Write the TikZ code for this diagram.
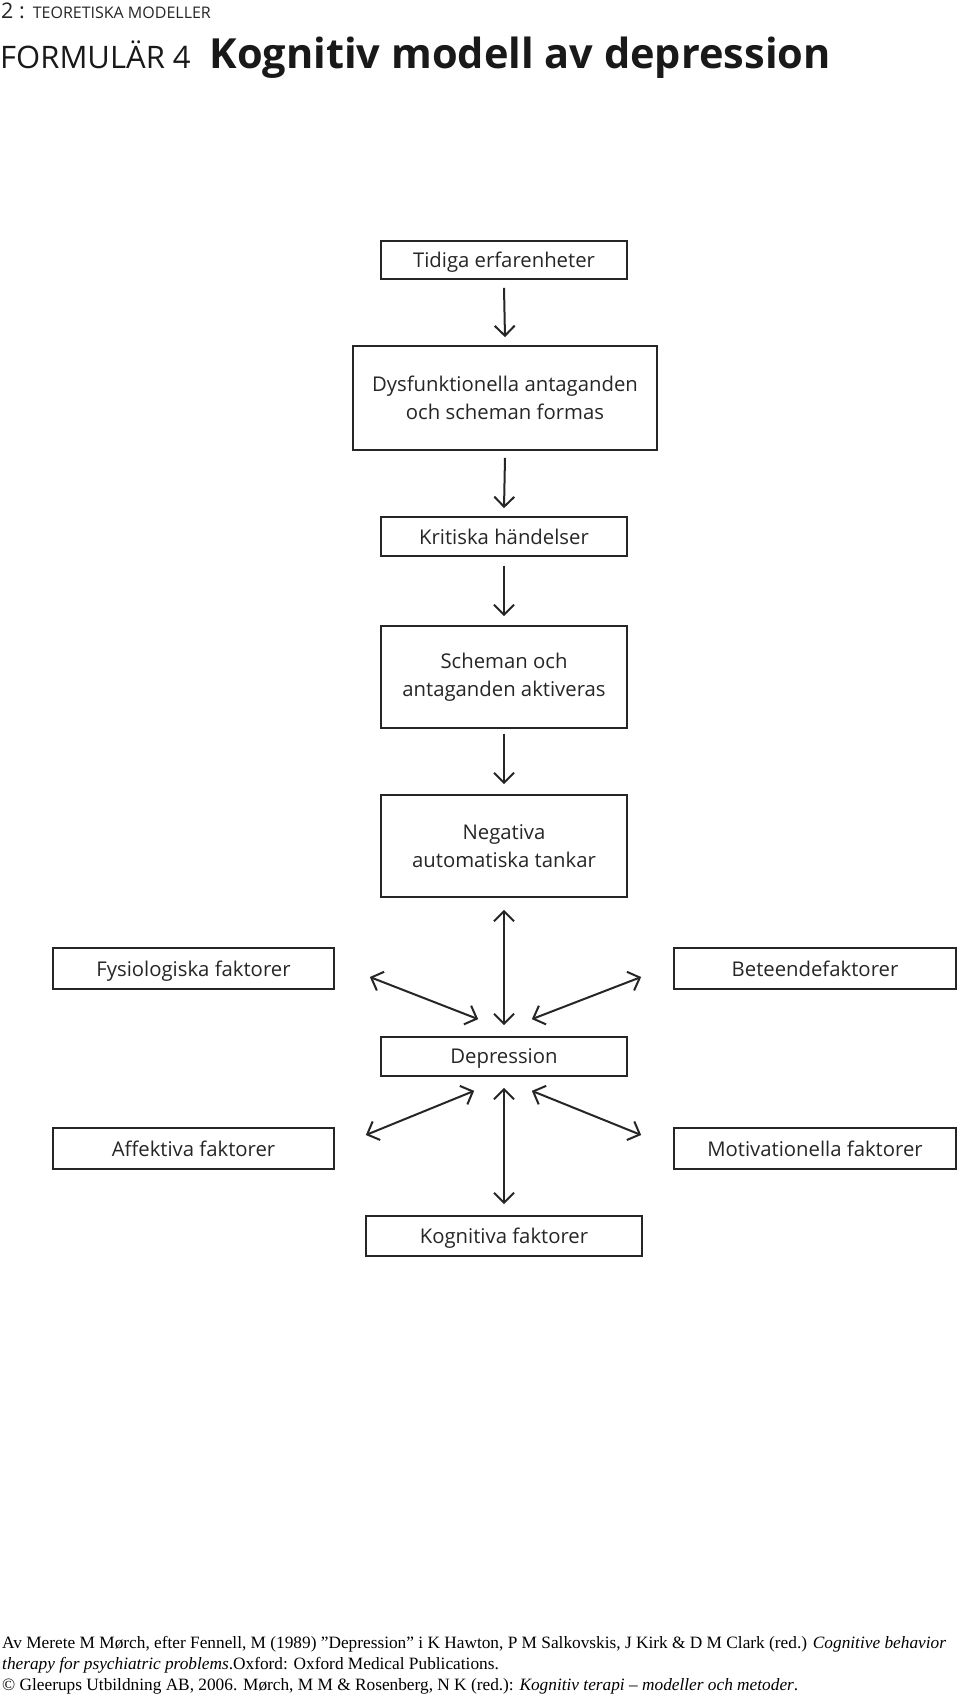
\documentclass[tikz,border=0pt]{standalone}
\usepackage{fontspec}
\setmainfont{Open Sans}
\newfontfamily\serifft{Liberation Serif}
\usetikzlibrary{arrows.meta,calc}
\begin{document}
\begin{tikzpicture}[x=1pt,y=-1pt,
  box/.style={draw=black!85,line width=1.7pt,inner sep=0pt,align=center,
    font=\fontsize{20.3}{28}\selectfont,text=black!85},
  sbox/.style={box,text depth=0pt},
  tip/.tip={Straight Barb[length=10pt,width=20pt]},
  arr/.style={line width=2pt,draw=black!85,-tip},
  darr/.style={line width=2pt,draw=black!85,tip-tip},
  foot/.style={anchor=base west,inner sep=0pt,font=\serifft\fontsize{17.3}{20}\selectfont,text=black}]
\useasboundingbox (0,0) rectangle (960,1697);
\fill[white] (0,0) rectangle (960,1697);
% header
\node[anchor=west,inner sep=0pt,text=black!85] (hdr) at (1,11)
  {\fontsize{21.5}{22}\selectfont 2 :\hspace{8pt}\fontsize{16}{18}\selectfont TEORETISKA MODELLER};
\node[anchor=west,inner sep=0pt,text=black!90] (title) at (0,58)
  {\fontsize{31}{36}\selectfont FORMULÄR 4\hspace{19pt}\bfseries\fontsize{41.5}{44}\selectfont Kognitiv modell av depression};
% boxes
\node[sbox,minimum width=246pt,minimum height=38pt] (tid) at (504,260) {Tidiga erfarenheter};
\node[box,minimum width=304pt,minimum height=104pt] (dys) at (505,398) {Dysfunktionella antaganden\\och scheman formas};
\node[sbox,minimum width=246pt,minimum height=39pt] (kri) at (504,536.5) {Kritiska händelser};
\node[box,minimum width=246pt,minimum height=102pt] (sch) at (504,677) {Scheman och\\antaganden aktiveras};
\node[box,minimum width=246pt,minimum height=102pt] (neg) at (504,846) {Negativa\\automatiska tankar};
\node[sbox,minimum width=281pt,minimum height=41pt] (fys) at (193.5,968.5) {Fysiologiska faktorer};
\node[sbox,minimum width=282pt,minimum height=41pt] (bet) at (815,968.5) {Beteendefaktorer};
\node[sbox,minimum width=246pt,minimum height=39pt] (dep) at (504,1056.5) {Depression};
\node[sbox,minimum width=281pt,minimum height=41pt] (aff) at (193.5,1148.5) {Affektiva faktorer};
\node[sbox,minimum width=282pt,minimum height=41pt] (mot) at (815,1148.5) {Motivationella faktorer};
\node[sbox,minimum width=276pt,minimum height=40pt] (kog) at (504,1236) {Kognitiva faktorer};
% vertical arrows
\draw[arr] ($(tid.south)+(0,8)$) -- ($(dys.north)+(0,-8)$);
\draw[arr] ($(dys.south)+(0,7)$) -- ($(kri.north)+(0,-8)$);
\draw[arr] ($(kri.south)+(0,9)$) -- ($(sch.north)+(0,-9)$);
\draw[arr] ($(sch.south)+(0,5)$) -- ($(neg.north)+(0,-10)$);
\draw[darr] ($(neg.south)+(0,12)$) -- ($(dep.north)+(0,-11)$);
\draw[darr] ($(dep.south)+(0,11)$) -- ($(kog.north)+(0,-11)$);
% diagonal arrows
\coordinate (f1) at ($(fys.east)+(35,8.5)$);
\coordinate (f2) at ($(dep.north west)+(98,-17)$);
\coordinate (b1) at ($(bet.west)+(-32,8.5)$);
\coordinate (b2) at ($(dep.north east)+(-96,-17)$);
\coordinate (a1) at ($(aff.east)+(31,-13.5)$);
\coordinate (a2) at ($(dep.south west)+(94,14)$);
\coordinate (m1) at ($(mot.west)+(-32,-13.5)$);
\coordinate (m2) at ($(dep.south east)+(-96,14)$);
\draw[darr] (f1) -- (f2);
\draw[darr] (b1) -- (b2);
\draw[darr] (a1) -- (a2);
\draw[darr] (m1) -- (m2);
% footer
\node[foot] (l1) at (2,1648) {Av Merete M Mørch, efter Fennell, M (1989) ”Depression” i K Hawton, P M Salkovskis, J Kirk \& D M Clark (red.) \textit{Cognitive behavior}};
\node[foot] (l2) at (2,1669) {\textit{therapy for psychiatric problems}.Oxford: Oxford Medical Publications.};
\node[foot] (l3) at (2,1690) {© Gleerups Utbildning AB, 2006. Mørch, M M \& Rosenberg, N K (red.): \textit{Kognitiv terapi – modeller och metoder}.};
\end{tikzpicture}
\end{document}
